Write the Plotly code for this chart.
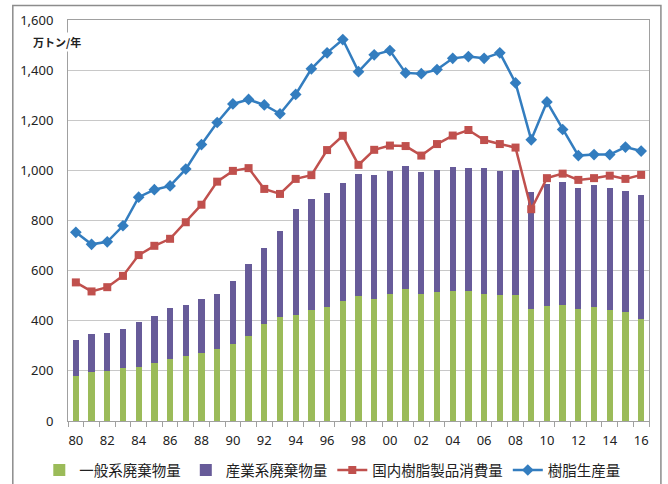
import plotly.graph_objects as go

years = [str(y % 100).zfill(2) for y in range(1980, 2017)]
tick_text = [y if i % 2 == 0 else "" for i, y in enumerate(years)]

general_waste = [180, 194, 201, 213, 216, 231, 248, 260, 273, 289, 309, 341, 389, 416, 424, 443, 455,
                 479, 499, 487, 507, 527, 507, 515, 520, 520, 507, 503, 503, 445, 460, 464, 447, 455, 444, 436, 408]
total_waste = [324, 347, 352, 367, 397, 417, 452, 464, 487, 505, 557, 625, 689, 757, 847, 886, 910,
               951, 985, 980, 999, 1019, 993, 1001, 1015, 1009, 1009, 996, 1001, 915, 945, 953, 931, 943, 928, 917, 903]
industrial_waste = [t - g for t, g in zip(total_waste, general_waste)]
consumption = [553, 517, 534, 579, 662, 699, 727, 793, 863, 955, 998, 1009, 926, 906, 966, 981, 1081,
               1138, 1022, 1082, 1099, 1097, 1059, 1105, 1139, 1161, 1121, 1105, 1091, 845, 969, 987, 962, 969, 979, 966, 982]
production = [753, 705, 715, 779, 893, 923, 938, 1005, 1103, 1191, 1265, 1283, 1261, 1226, 1303, 1405, 1469,
              1522, 1394, 1461, 1478, 1389, 1386, 1402, 1447, 1454, 1447, 1469, 1349, 1122, 1273, 1163, 1059, 1063, 1063, 1093, 1077]

names = ["一般系廃棄物量", "産業系廃棄物量", "国内樹脂製品消費量", "樹脂生産量"]
y_ticks = list(range(0, 1601, 200))

CJK = "Noto Sans CJK JP, Noto Sans, sans-serif"
NUM = "Noto Sans, Open Sans, sans-serif"

fig = go.Figure()
fig.add_trace(go.Bar(x=years, y=general_waste, name=names[0], marker=dict(color="#9BBB59", line=dict(width=0))))
fig.add_trace(go.Bar(x=years, y=industrial_waste, name=names[1], marker=dict(color="#675B99", line=dict(width=0))))
fig.add_trace(go.Scatter(x=years, y=consumption, name=names[2], mode="lines+markers",
                         line=dict(color="#C0504D", width=2.5),
                         marker=dict(symbol="square", size=8, color="#C0504D")))
fig.add_trace(go.Scatter(x=years, y=production, name=names[3], mode="lines+markers",
                         line=dict(color="#337DBF", width=2.5),
                         marker=dict(symbol="diamond", size=9, color="#337DBF")))

fig.update_layout(
    width=668, height=484,
    margin=dict(l=68, r=19, t=20, b=63, autoexpand=False),
    paper_bgcolor="white", plot_bgcolor="white",
    barmode="stack", bargap=0.6,
    font=dict(family=NUM, size=13, color="#222222"),
    showlegend=True,
    legend=dict(orientation="h", x=-0.0494, xanchor="left", y=-0.0825, yanchor="top",
                font=dict(family=CJK, size=14.5, color="#222222"),
                itemwidth=30, tracegroupgap=0, traceorder="normal"),
    xaxis=dict(type="category", range=[-0.5, len(years) - 0.5],
               tickmode="array", tickvals=years, ticktext=tick_text,
               tickson="boundaries", ticks="outside", ticklen=5, tickcolor="#A0A0A0",
               tickangle=0, ticklabelstandoff=7,
               showgrid=False, showline=True, linecolor="#A0A0A0", mirror=True,
               tickfont=dict(family=NUM, size=13, color="#222222")),
    yaxis=dict(range=[0, 1600], tickmode="array", tickvals=y_ticks,
               ticktext=[f"{v:,}" for v in y_ticks],
               showgrid=True, gridcolor="#C8C8C8", gridwidth=1,
               showline=True, linecolor="#A0A0A0", mirror=True, zeroline=False,
               ticks="", ticklabelstandoff=11,
               tickfont=dict(family=NUM, size=13, color="#222222")),
    shapes=[dict(type="rect", xref="paper", yref="paper",
                 x0=-0.095, x1=1.0205, y0=-0.2, y1=1.036,
                 line=dict(color="#8C8C8C", width=1.5), fillcolor="rgba(0,0,0,0)", layer="above")],
    annotations=[dict(text="<b>万トン/年</b>", xref="paper", yref="paper", x=-0.063, y=0.945,
                      xanchor="left", yanchor="middle", showarrow=False,
                      font=dict(family=CJK, size=11, color="#222222"), bgcolor="white")],
)

fig.write_html("out.html", config={"displayModeBar": False},
               post_script="document.body.style.margin='0px';document.body.style.overflow='hidden';")
